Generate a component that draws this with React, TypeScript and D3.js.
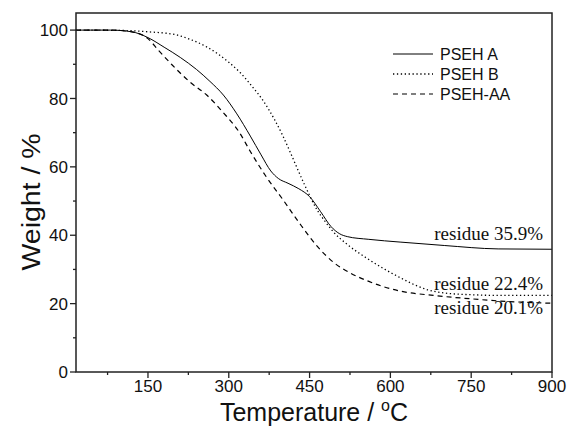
import React from "react";
import * as d3 from "d3";

const tempA = [16, 80, 120, 150, 180, 210, 240, 265, 290, 315, 340, 360, 378, 392, 410, 430, 450, 470, 490, 505, 520, 560, 618, 700, 800, 900];
const weightA = [100, 100, 99.5, 97.8, 95, 92, 88.5, 85, 81, 75.5, 69, 63.5, 58.8, 56.6, 55.2, 53.6, 51.3, 47, 42.5, 40.5, 39.6, 38.8, 38, 37, 36, 35.9];

const tempB = [16, 100, 150, 200, 228, 260, 300, 321, 345, 364, 385, 400, 414, 440, 464, 480, 494, 520, 556, 590, 618, 645, 670, 700, 750, 800, 900];
const weightB = [100, 99.9, 99.5, 98.7, 97.3, 95, 90.6, 87.6, 83.2, 79.3, 73.8, 69.2, 64.3, 55, 47.4, 43.8, 41, 37.3, 33.3, 30, 27.6, 25.5, 24, 23.1, 22.6, 22.4, 22.4];

const tempAA = [16, 80, 120, 150, 170, 195, 228, 259, 289, 320, 340, 370, 401, 430, 464, 495, 525, 560, 586, 620, 680, 750, 800, 900];
const weightAA = [100, 100, 99.5, 97.5, 94, 89.8, 84.8, 81, 76, 70, 64.5, 57, 50.3, 43.8, 36.8, 32, 29, 26.5, 25, 23.6, 22.4, 21.4, 20.8, 20.1];

const seriesNames = ["PSEH A", "PSEH B", "PSEH-AA"];
const xTicks = [150, 300, 450, 600, 750, 900];
const xMinor = [75, 225, 375, 525, 675, 825];
const yTicks = [0, 20, 40, 60, 80, 100];
const yMinor = [10, 30, 50, 70, 90];
const residueLabels = ["residue 35.9%", "residue 22.4%", "residue 20.1%"];

const W = 568, H = 427;
const L = 76, R = 552, T = 13, B = 372;

export default function App() {
  const x = d3.scaleLinear().domain([16.4, 900]).range([L, R]);
  const y = d3.scaleLinear().domain([0, 105]).range([B, T]);
  const line = d3.line<[number, number]>().x(d => x(d[0])).y(d => y(d[1])).curve(d3.curveMonotoneX);
  const series = [
    { t: tempA, w: weightA, dash: undefined as string | undefined, sw: 1 },
    { t: tempB, w: weightB, dash: "1.3,2.6", sw: 1.3 },
    { t: tempAA, w: weightAA, dash: "5,4", sw: 1.2 },
  ];
  const sans = "'Liberation Sans', Arial, sans-serif";
  const serif = "'Liberation Serif', 'Times New Roman', serif";
  const resY = [240, 290, 314];
  return (
    <svg width={W} height={H} style={{ position: "absolute", left: 0, top: 0, background: "#fff" }}>
      <rect x={0} y={0} width={W} height={H} fill="#fff" />
      {series.map((s, i) => (
        <path key={i} d={line(s.t.map((t, j) => [t, s.w[j]] as [number, number])) || ""} fill="none" stroke="#000" strokeWidth={s.sw} strokeDasharray={s.dash} />
      ))}
      <rect x={L} y={T} width={R - L} height={B - T} fill="none" stroke="#222" strokeWidth={1.5} />
      {yTicks.map(v => (
        <g key={"y" + v}>
          <line x1={L - 6} x2={L} y1={y(v)} y2={y(v)} stroke="#222" strokeWidth={1.3} />
          <text x={L - 8} y={y(v)} dy="0.36em" textAnchor="end" fontFamily={sans} fontSize={17} fill="#111">{v}</text>
        </g>
      ))}
      {yMinor.map(v => (
        <line key={"ym" + v} x1={L - 3} x2={L} y1={y(v)} y2={y(v)} stroke="#222" strokeWidth={1.3} />
      ))}
      {xTicks.map(v => (
        <g key={"x" + v}>
          <line x1={x(v)} x2={x(v)} y1={B} y2={B + 6} stroke="#222" strokeWidth={1.3} />
          <text x={x(v)} y={B + 20} textAnchor="middle" fontFamily={sans} fontSize={17} fill="#111">{v}</text>
        </g>
      ))}
      {xMinor.map(v => (
        <line key={"xm" + v} x1={x(v)} x2={x(v)} y1={B} y2={B + 3} stroke="#222" strokeWidth={1.3} />
      ))}
      <text x={314} y={421} textAnchor="middle" fontFamily={sans} fontSize={25} fill="#111">
        Temperature / <tspan fontSize={16} dy={-10}>o</tspan><tspan dy={10}>C</tspan>
      </text>
      <text transform={`translate(40,${202}) rotate(-90)`} textAnchor="middle" fontFamily={sans} fontSize={26} textLength={137} lengthAdjust="spacingAndGlyphs" fill="#111">Weight / %</text>
      {seriesNames.map((n, i) => (
        <g key={n}>
          <line x1={393} x2={433} y1={54 + i * 20} y2={54 + i * 20} stroke="#000" strokeWidth={series[i].sw} strokeDasharray={series[i].dash} />
          <text x={440} y={54 + i * 20} dy="0.36em" fontFamily={sans} fontSize={16} fill="#111">{n}</text>
        </g>
      ))}
      {residueLabels.map((r, i) => (
        <text key={r} x={543} y={resY[i]} textAnchor="end" fontFamily={serif} fontSize={19} fill="#111">{r}</text>
      ))}
    </svg>
  );
}
